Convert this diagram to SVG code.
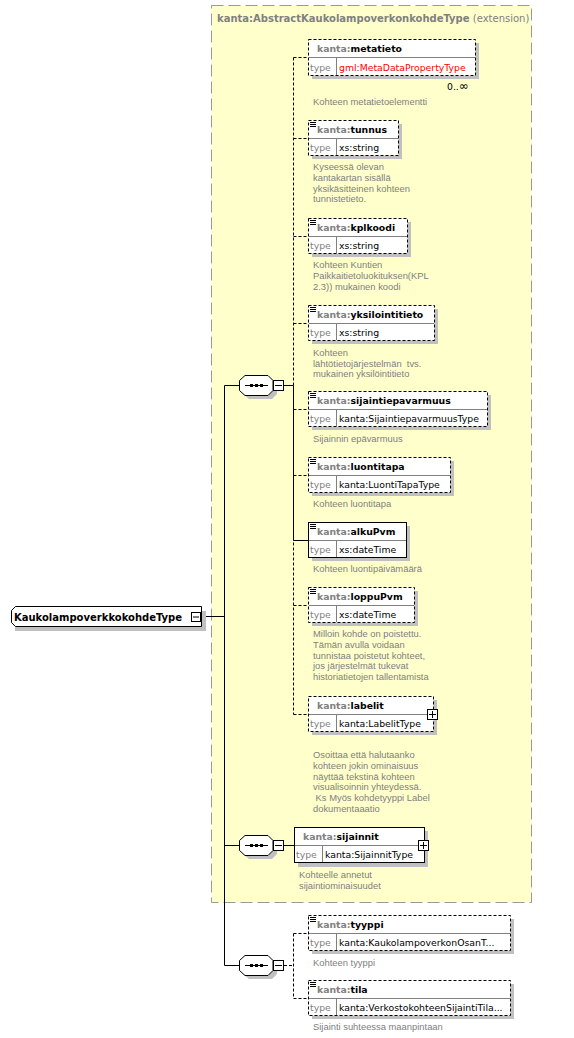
<svg xmlns="http://www.w3.org/2000/svg" width="574" height="1038" viewBox="0 0 574 1038">
<style>
.bg{fill:#ffffff}
.ext{fill:#ffffcc;stroke:#999999;stroke-width:1;stroke-dasharray:12,5}
.sh{fill:#c0c0c0}
.box{fill:#ffffff;stroke:#000000;stroke-width:1}
.opt{stroke-dasharray:3,2}
.div{stroke:#808080;stroke-width:1}
.icon{stroke:#000000;stroke-width:1;fill:none}
.nm{font-family:"DejaVu Sans",sans-serif;font-weight:bold;font-size:9.3px;fill:#000000}
.pre{fill:#808080}
.ty{font-family:"DejaVu Sans",sans-serif;font-size:9.3px;fill:#808080}
.tv{font-family:"DejaVu Sans",sans-serif;font-size:9.3px;fill:#000000}
.red{fill:#ff0000}
.ds{font-family:"Liberation Sans",Arial,sans-serif;font-size:9.4px;fill:#808080}
.ttl{font-family:"DejaVu Sans",sans-serif;font-weight:bold;font-size:10px;fill:#808080}
.ttln{font-family:"DejaVu Sans",sans-serif;font-weight:normal;font-size:10px;fill:#808080}
.root{font-family:"DejaVu Sans",sans-serif;font-weight:bold;font-size:10px;fill:#000000}
.ln{stroke:#000000;stroke-width:1;fill:none}
.dl{stroke:#000000;stroke-width:1;fill:none;stroke-dasharray:3,2}
.pm{fill:#ffffff;stroke:#000000;stroke-width:1}
.mult{font-family:"DejaVu Sans",sans-serif;font-size:9.3px;fill:#000000}
</style>
<rect class="bg" x="0" y="0" width="574" height="1038"/>

<g id="extension">
<rect class="ext" x="211.5" y="5.5" width="320" height="897"/>
<text x="217" y="22"><tspan class="ttl">kanta:AbstractKaukolampoverkonkohdeType</tspan><tspan class="ttln"> (extension)</tspan></text>
</g>

<g id="connectors">
<line class="ln" x1="200" y1="616.5" x2="224.5" y2="616.5"/>
<line class="ln" x1="224.5" y1="385.5" x2="224.5" y2="965.5"/>
<line class="ln" x1="224.5" y1="385.5" x2="239" y2="385.5"/>
<line class="ln" x1="224.5" y1="845.5" x2="239" y2="845.5"/>
<line class="ln" x1="224.5" y1="965.5" x2="239" y2="965.5"/>
<path class="dl" d="M293.5,57.5V714.5"/>
<path class="ln" d="M283,385.5H293.5V540.5H308"/>
<path class="dl" d="M293.5,57.5H308M293.5,138.5H308M293.5,236.5H308M293.5,323.5H308M293.5,409.5H308M293.5,475.5H308M293.5,605.5H308M293.5,714.5H308"/>
<line class="ln" x1="284" y1="845.5" x2="294" y2="845.5"/>
<path class="dl" d="M284,965.5H293.5M293.5,933.5V998.5M293.5,933.5H308M293.5,998.5H308"/>
</g>

<g id="root">
<path class="sh" d="M19,611H206V631H15V615Z"/>
<path class="box" d="M15.5,606.5H201.5V626.5H15.5L11.5,622.5V610.5Z"/>
<text class="root" x="14" y="620.5">KaukolampoverkkokohdeType</text>
<rect class="pm" x="191.5" y="612.5" width="9" height="9"/>
<line class="ln" x1="193" y1="617" x2="199" y2="617"/>
</g>

<g id="seq1">
<path class="sh" d="M249,379H272L277,384V394L272,399H249L243,394V384Z"/>
<path class="box" d="M245,375.5H268L273,380.5V390.5L268,395.5H245L239.5,390.5V380.5Z"/>
<line class="ln" x1="245" y1="385.5" x2="268" y2="385.5"/>
<rect x="250" y="384" width="3" height="3"/><rect x="255" y="384" width="3" height="3"/><rect x="260" y="384" width="3" height="3"/>
<rect class="pm" x="273.5" y="380.5" width="10" height="10"/>
<line class="ln" x1="275" y1="385.5" x2="282" y2="385.5"/>
</g>

<g id="seq2">
<path class="sh" d="M249,839H272L277,844V854L272,859H249L243,854V844Z"/>
<path class="box" d="M245,835.5H268L273,840.5V850.5L268,855.5H245L239.5,850.5V840.5Z"/>
<line class="ln" x1="245" y1="845.5" x2="268" y2="845.5"/>
<rect x="250" y="844" width="3" height="3"/><rect x="255" y="844" width="3" height="3"/><rect x="260" y="844" width="3" height="3"/>
<rect class="pm" x="273.5" y="840.5" width="10" height="10"/>
<line class="ln" x1="275" y1="845.5" x2="282" y2="845.5"/>
</g>

<g id="seq3">
<path class="sh" d="M249,959H272L277,964V974L272,979H249L243,974V964Z"/>
<path class="box" d="M245,955.5H268L273,960.5V970.5L268,975.5H245L239.5,970.5V960.5Z"/>
<line class="ln" x1="245" y1="965.5" x2="268" y2="965.5"/>
<rect x="250" y="964" width="3" height="3"/><rect x="255" y="964" width="3" height="3"/><rect x="260" y="964" width="3" height="3"/>
<rect class="pm" x="273.5" y="960.5" width="10" height="10"/>
<line class="ln" x1="275" y1="965.5" x2="282" y2="965.5"/>
</g>

<g id="metatieto">
<rect class="sh" x="312" y="43" width="167" height="36"/>
<rect class="box opt" x="308.5" y="39.5" width="167" height="36"/>
<line class="div" x1="309" y1="57.5" x2="475" y2="57.5"/>
<line class="div" x1="336.5" y1="58" x2="336.5" y2="75"/>
<text class="nm" x="317" y="52"><tspan class="pre">kanta:</tspan>metatieto</text>
<text class="ty" x="310" y="71">type</text>
<text class="tv red" x="339" y="71">gml:MetaDataPropertyType</text>
<text class="mult" x="447" y="90">0..<tspan font-size="12px">∞</tspan></text>
<text class="ds" x="313" y="105">Kohteen metatietoelementti</text>
</g>

<g id="tunnus">
<rect class="sh" x="312" y="124" width="90" height="35"/>
<rect class="box opt" x="308.5" y="120.5" width="90" height="35"/>
<line class="div" x1="309" y1="138.5" x2="398" y2="138.5"/>
<line class="div" x1="336.5" y1="139" x2="336.5" y2="155"/>
<path class="icon" d="M310,122.5h6M310,124.5h6M310,126.5h6"/>
<text class="nm" x="317" y="133"><tspan class="pre">kanta:</tspan>tunnus</text>
<text class="ty" x="310" y="151">type</text>
<text class="tv" x="339" y="151">xs:string</text>
<text class="ds" x="313" y="170">Kyseessä olevan</text>
<text class="ds" x="313" y="181">kantakartan sisällä</text>
<text class="ds" x="313" y="191.5">yksikäsitteinen kohteen</text>
<text class="ds" x="313" y="202">tunnistetieto.</text>
</g>

<g id="kplkoodi">
<rect class="sh" x="312" y="222" width="99" height="35"/>
<rect class="box opt" x="308.5" y="218.5" width="99" height="35"/>
<line class="div" x1="309" y1="236.5" x2="407" y2="236.5"/>
<line class="div" x1="336.5" y1="237" x2="336.5" y2="253"/>
<path class="icon" d="M310,220.5h6M310,222.5h6M310,224.5h6"/>
<text class="nm" x="317" y="231"><tspan class="pre">kanta:</tspan>kplkoodi</text>
<text class="ty" x="310" y="249">type</text>
<text class="tv" x="339" y="249">xs:string</text>
<text class="ds" x="313" y="268">Kohteen Kuntien</text>
<text class="ds" x="313" y="279">Paikkaitietoluokituksen(KPL</text>
<text class="ds" x="313" y="289.5">2.3)) mukainen koodi</text>
</g>

<g id="yksilointitieto">
<rect class="sh" x="312" y="309" width="126" height="35"/>
<rect class="box opt" x="308.5" y="305.5" width="126" height="35"/>
<line class="div" x1="309" y1="323.5" x2="434" y2="323.5"/>
<line class="div" x1="336.5" y1="324" x2="336.5" y2="340"/>
<path class="icon" d="M310,307.5h6M310,309.5h6M310,311.5h6"/>
<text class="nm" x="317" y="318"><tspan class="pre">kanta:</tspan>yksilointitieto</text>
<text class="ty" x="310" y="336">type</text>
<text class="tv" x="339" y="336">xs:string</text>
<text class="ds" x="313" y="356">Kohteen</text>
<text class="ds" x="313" y="366.5" xml:space="preserve">lähtötietojärjestelmän  tvs.</text>
<text class="ds" x="313" y="377">mukainen yksilöintitieto</text>
</g>

<g id="sijaintiepavarmuus">
<rect class="sh" x="312" y="395" width="179" height="35"/>
<rect class="box opt" x="308.5" y="391.5" width="179" height="35"/>
<line class="div" x1="309" y1="409.5" x2="487" y2="409.5"/>
<line class="div" x1="336.5" y1="410" x2="336.5" y2="426"/>
<path class="icon" d="M310,393.5h6M310,395.5h6M310,397.5h6"/>
<text class="nm" x="317" y="404"><tspan class="pre">kanta:</tspan>sijaintiepavarmuus</text>
<text class="ty" x="310" y="422">type</text>
<text class="tv" x="339" y="422">kanta:SijaintiepavarmuusType</text>
<text class="ds" x="313" y="442">Sijainnin epävarmuus</text>
</g>

<g id="luontitapa">
<rect class="sh" x="312" y="461" width="142" height="35"/>
<rect class="box opt" x="308.5" y="457.5" width="142" height="35"/>
<line class="div" x1="309" y1="475.5" x2="450" y2="475.5"/>
<line class="div" x1="336.5" y1="476" x2="336.5" y2="492"/>
<path class="icon" d="M310,459.5h6M310,461.5h6M310,463.5h6"/>
<text class="nm" x="317" y="470"><tspan class="pre">kanta:</tspan>luontitapa</text>
<text class="ty" x="310" y="488">type</text>
<text class="tv" x="339" y="488">kanta:LuontiTapaType</text>
<text class="ds" x="313" y="507">Kohteen luontitapa</text>
</g>

<g id="alkuPvm">
<rect class="sh" x="312" y="526" width="98" height="35"/>
<rect class="box" x="308.5" y="522.5" width="98" height="35"/>
<line class="div" x1="309" y1="540.5" x2="406" y2="540.5"/>
<line class="div" x1="336.5" y1="541" x2="336.5" y2="557"/>
<path class="icon" d="M310,524.5h6M310,526.5h6M310,528.5h6"/>
<text class="nm" x="317" y="535"><tspan class="pre">kanta:</tspan>alkuPvm</text>
<text class="ty" x="310" y="553">type</text>
<text class="tv" x="339" y="553">xs:dateTime</text>
<text class="ds" x="313" y="572">Kohteen luontipäivämäärä</text>
</g>

<g id="loppuPvm">
<rect class="sh" x="312" y="591" width="106" height="35"/>
<rect class="box opt" x="308.5" y="587.5" width="106" height="35"/>
<line class="div" x1="309" y1="605.5" x2="414" y2="605.5"/>
<line class="div" x1="336.5" y1="606" x2="336.5" y2="622"/>
<path class="icon" d="M310,589.5h6M310,591.5h6M310,593.5h6"/>
<text class="nm" x="317" y="600"><tspan class="pre">kanta:</tspan>loppuPvm</text>
<text class="ty" x="310" y="618">type</text>
<text class="tv" x="339" y="618">xs:dateTime</text>
<text class="ds" x="313" y="637">Milloin kohde on poistettu.</text>
<text class="ds" x="313" y="648">Tämän avulla voidaan</text>
<text class="ds" x="313" y="658.5">tunnistaa poistetut kohteet,</text>
<text class="ds" x="313" y="669">jos järjestelmät tukevat</text>
<text class="ds" x="313" y="680">historiatietojen tallentamista</text>
</g>

<g id="labelit">
<rect class="sh" x="312" y="700" width="125" height="35"/>
<rect class="box opt" x="308.5" y="696.5" width="125" height="35"/>
<line class="div" x1="309" y1="714.5" x2="433" y2="714.5"/>
<line class="div" x1="336.5" y1="715" x2="336.5" y2="731"/>
<text class="nm" x="317" y="709"><tspan class="pre">kanta:</tspan>labelit</text>
<text class="ty" x="310" y="727">type</text>
<text class="tv" x="339" y="727">kanta:LabelitType</text>
<rect class="pm" x="427.5" y="709.5" width="10" height="10"/>
<path class="ln" d="M429,714.5h7M432.5,711v7"/>
<text class="ds" x="313" y="758">Osoittaa että halutaanko</text>
<text class="ds" x="313" y="769">kohteen jokin ominaisuus</text>
<text class="ds" x="313" y="779.5">näyttää tekstinä kohteen</text>
<text class="ds" x="313" y="790">visualisoinnin yhteydessä.</text>
<text class="ds" x="313" y="801" xml:space="preserve"> Ks Myös kohdetyyppi Label</text>
<text class="ds" x="313" y="811.5">dokumentaaatio</text>
</g>

<g id="sijainnit">
<rect class="sh" x="298" y="831" width="130" height="36"/>
<rect class="box" x="294.5" y="827.5" width="130" height="35"/>
<line class="div" x1="295" y1="845.5" x2="424" y2="845.5"/>
<line class="div" x1="322.5" y1="846" x2="322.5" y2="862"/>
<text class="nm" x="303" y="840"><tspan class="pre">kanta:</tspan>sijainnit</text>
<text class="ty" x="296" y="858">type</text>
<text class="tv" x="325" y="858">kanta:SijainnitType</text>
<rect class="pm" x="418.5" y="840.5" width="10" height="10"/>
<path class="ln" d="M420,845.5h7M423.5,842v7"/>
<text class="ds" x="299" y="878">Kohteelle annetut</text>
<text class="ds" x="299" y="889">sijaintiominaisuudet</text>
</g>

<g id="tyyppi">
<rect class="sh" x="312" y="919" width="202" height="35"/>
<rect class="box opt" x="308.5" y="915.5" width="202" height="35"/>
<line class="div" x1="309" y1="933.5" x2="510" y2="933.5"/>
<line class="div" x1="336.5" y1="934" x2="336.5" y2="950"/>
<path class="icon" d="M310,917.5h6M310,919.5h6M310,921.5h6"/>
<text class="nm" x="317" y="928"><tspan class="pre">kanta:</tspan>tyyppi</text>
<text class="ty" x="310" y="946">type</text>
<text class="tv" x="339" y="946">kanta:KaukolampoverkonOsanT...</text>
<text class="ds" x="313" y="966">Kohteen tyyppi</text>
</g>

<g id="tila">
<rect class="sh" x="312" y="984" width="202" height="35"/>
<rect class="box opt" x="308.5" y="980.5" width="202" height="35"/>
<line class="div" x1="309" y1="998.5" x2="510" y2="998.5"/>
<line class="div" x1="336.5" y1="999" x2="336.5" y2="1015"/>
<path class="icon" d="M310,982.5h6M310,984.5h6M310,986.5h6"/>
<text class="nm" x="317" y="993"><tspan class="pre">kanta:</tspan>tila</text>
<text class="ty" x="310" y="1011">type</text>
<text class="tv" x="339" y="1011">kanta:VerkostokohteenSijaintiTila...</text>
<text class="ds" x="313" y="1030">Sijainti suhteessa maanpintaan</text>
</g>
</svg>
